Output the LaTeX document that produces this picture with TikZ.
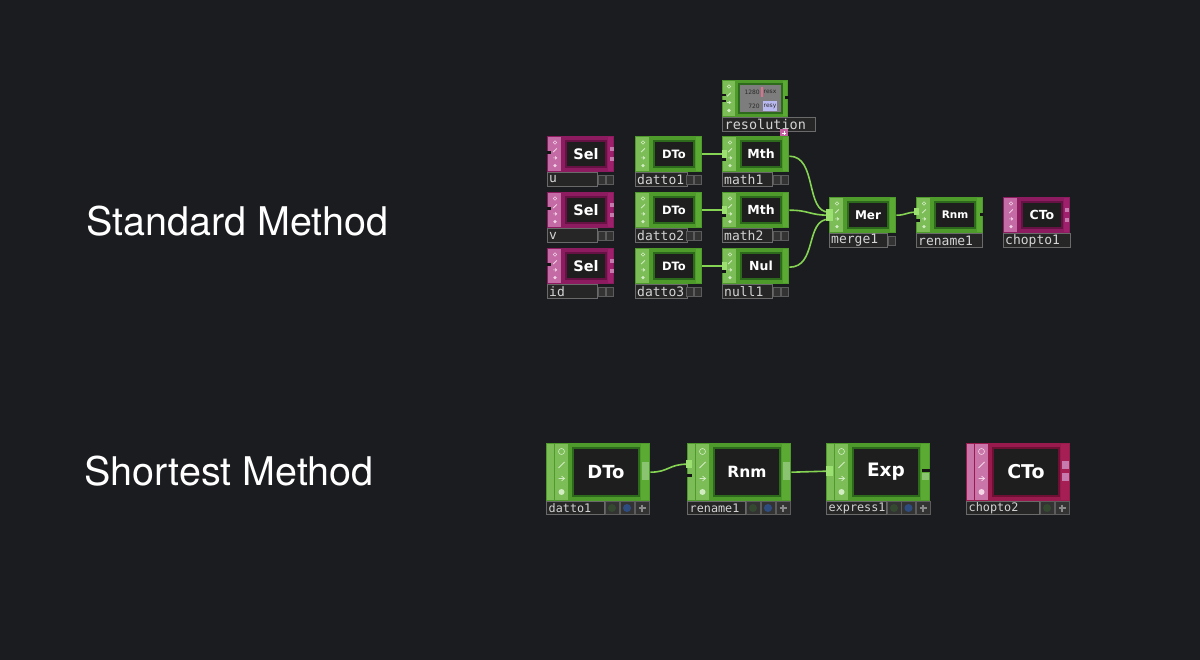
\documentclass[tikz,border=0pt]{standalone}
\usepackage{fontspec}
\setmainfont{TeX Gyre Heros}
\newfontfamily\opfont{DejaVu Sans}
\newfontfamily\labfont{DejaVu Sans Mono}
\usetikzlibrary{arrows.meta}
\definecolor{bg}{HTML}{1B1C1F}
\definecolor{innerc}{HTML}{1D1E1D}
\definecolor{notch}{HTML}{151515}
\definecolor{gouter}{HTML}{4E9B2C}
\definecolor{gstrip}{HTML}{7CBD58}
\definecolor{gframe}{HTML}{2E6A1C}
\definecolor{grs}{HTML}{5AAA33}
\definecolor{gicon}{HTML}{D2ECC2}
\definecolor{mouter}{HTML}{8C1B60}
\definecolor{mstrip}{HTML}{C46BA5}
\definecolor{mframe}{HTML}{661244}
\definecolor{mrs}{HTML}{9E1F6C}
\definecolor{micon}{HTML}{F2CFE6}
\definecolor{couter}{HTML}{991A4C}
\definecolor{cstrip}{HTML}{C975A9}
\definecolor{cframe}{HTML}{6E1034}
\definecolor{crs}{HTML}{A51F55}
\definecolor{cicon}{HTML}{F4D4E6}
\definecolor{wirec}{HTML}{86D454}
\definecolor{conn}{HTML}{9BE070}
\definecolor{pinkconn}{HTML}{C77AAE}
\definecolor{labfill}{HTML}{262627}
\definecolor{labdraw}{HTML}{6A6A6A}
\definecolor{labtext}{HTML}{D4D4D4}
\definecolor{btnfill}{HTML}{333334}
\definecolor{btndraw}{HTML}{5C5C5C}
\definecolor{resgray}{HTML}{7D7D7D}
\definecolor{restext}{HTML}{2A2A2A}
\definecolor{resblue}{HTML}{B9B9F2}
\definecolor{respink}{HTML}{E07090}
\definecolor{marker}{HTML}{C45FA0}
\definecolor{btngreen}{HTML}{34492F}
\definecolor{btnblue}{HTML}{2F4C80}
\definecolor{plusc}{HTML}{8A8A8A}

\tikzset{
 opbody/.style={draw=none, inner sep=0pt, anchor=north west},
 wire/.style={draw=wirec, line width=1.6pt},
 heading/.style={anchor=west, inner sep=0pt, text=white, font=\fontsize{39.5}{41}\selectfont},
 optext/.style={text=white, inner sep=0pt, font=\opfont\bfseries\fontsize{#1}{#1}\selectfont},
 labtxt/.style={anchor=west, inner sep=0pt, text=labtext, font=\labfont\fontsize{#1}{#1}\selectfont},
 labbox/.style={fill=labfill, draw=labdraw, line width=0.8pt},
 btn/.style={fill=btnfill, draw=btndraw, line width=0.6pt},
 restxt/.style={inner sep=0pt, text=restext, font=\opfont\fontsize{6}{6}\selectfont},
}

% icons column: cx, first cy, dy, r, colour
\newcommand\opicons[5]{%
 \draw[#5, line width=0.6pt] (#1,#2) circle (#4pt);
 \draw[#5, line width=0.8pt] (#1-#4,#2+#3+#4) -- (#1+#4,#2+#3-#4);
 \draw[#5, line width=0.7pt] (#1-#4,#2+2*#3) -- (#1+#4,#2+2*#3)
   (#1,#2+2*#3-0.8*#4) -- (#1+#4,#2+2*#3) -- (#1,#2+2*#3+0.8*#4);
 \fill[#5] (#1,#2+3*#3) circle (#4pt);
}
% small operator: name, x0, y0, text, scheme, font size
\newcommand\opS[6]{%
 \node[opbody, fill=#5outer, minimum width=67pt, minimum height=36pt] (#1) at (#2,#3) {};
 \fill[#5strip] (#2+1,#3+1) rectangle (#2+14,#3+35);
 \opicons{#2+8}{#3+6.5}{7.7}{1.8}{#5icon}
 \filldraw[fill=innerc, draw=#5frame, line width=1.6pt] (#2+18.8,#3+4.8) rectangle (#2+59.2,#3+31.2);
 \fill[#5rs] (#2+61,#3+1) rectangle (#2+66,#3+35);
 \node[optext=#6] (#1-t) at (#2+39,#3+18) {#4};
}
% big operator
\newcommand\opB[6]{%
 \node[opbody, fill=#5outer, minimum width=104pt, minimum height=58pt] (#1) at (#2,#3) {};
 \fill[#5strip] (#2+1,#3+1) rectangle (#2+22,#3+57);
 \draw[#5outer, line width=0.8pt] (#2+8,#3+1) -- (#2+8,#3+57);
 \opicons{#2+15.5}{#3+8.5}{13.5}{3}{#5icon}
 \filldraw[fill=innerc, draw=#5frame, line width=2.4pt] (#2+27,#3+5) rectangle (#2+93,#3+53);
 \fill[#5rs] (#2+95,#3+1) rectangle (#2+103,#3+57);
 \node[optext=#6] (#1-t) at (#2+60,#3+29) {#4};
}
% small label: name, x0, y0, text, box width, number of buttons (0..2)
\newcommand\labS[6]{%
 \filldraw[labbox] (#2+0.5,#3+0.5) rectangle (#2+#5,#3+14.5);
 \node[labtxt=13] (#1) at (#2+2,#3+7.5) {#4};
 \ifnum#6>0 \filldraw[btn] (#2+59,#3+3) rectangle (#2+66,#3+12);\fi
 \ifnum#6>1 \filldraw[btn] (#2+51,#3+3) rectangle (#2+58,#3+12);\fi
}
% big label buttons
\newcommand\bgreen[2]{\filldraw[btn] (#1,#2) rectangle (#1+14,#2+13); \fill[btngreen] (#1+7,#2+6.5) circle (4pt);}
\newcommand\bblue[2]{\filldraw[btn] (#1,#2) rectangle (#1+14,#2+13); \fill[btnblue] (#1+7,#2+6.5) circle (4pt);}
\newcommand\bplus[2]{\filldraw[btn] (#1,#2) rectangle (#1+14,#2+13); \draw[plusc, line width=1.4pt] (#1+3.5,#2+6.5) -- (#1+10.5,#2+6.5) (#1+7,#2+3) -- (#1+7,#2+10);}

\begin{document}
\begin{tikzpicture}[x=1pt, y=-1pt]
\useasboundingbox (0,0) rectangle (1200,660);
\fill[bg] (0,0) rectangle (1200,660);

% headings
\node[heading] (std) at (86,221) {Standard Method};
\node[heading] (short) at (84,471) {Shortest Method};

% ---------- standard method ----------
% resolution
\node[opbody, fill=gouter, minimum width=66pt, minimum height=37pt] (resolution) at (722,80) {};
\fill[gstrip] (723,81) rectangle (735,116);
\opicons{729}{86.5}{8}{1.8}{gicon}
\filldraw[fill=resgray, draw=gframe, line width=1.2pt] (739,84) rectangle (782,113);
\fill[grs] (783,81) rectangle (787,116);
\fill[notch] (785,96) rectangle (789,99);
\fill[notch] (722,94) rectangle (726,96);
\fill[notch] (722,100) rectangle (726,102);
\fill[respink] (761,87) rectangle (762.5,97);
\fill[resblue] (763,101) rectangle (777,111);
\node[restxt, anchor=east] (r1) at (760,92) {1280};
\node[restxt, anchor=west] (r2) at (763.5,92) {resx};
\node[restxt, anchor=east] (r3) at (760,106) {720};
\node[restxt, anchor=west] (r4) at (763.5,106) {resy};
\filldraw[labbox] (722.5,117.5) rectangle (815,131);
\node[labtxt=13.5] (resolution-l) at (724.5,124.5) {resolution};
\fill[marker] (780,129) rectangle (788,137);
\draw[white, line width=0.6pt] (781.8,133) -- (786.2,133) (784,130.8) -- (784,135.2);

% rows
\opS{selu}{547}{136}{Sel}{m}{14.5}
\opS{selv}{547}{192}{Sel}{m}{14.5}
\opS{selid}{547}{248}{Sel}{m}{14.5}
\opS{datto1s}{635}{136}{DTo}{g}{11.5}
\opS{datto2}{635}{192}{DTo}{g}{11.5}
\opS{datto3}{635}{248}{DTo}{g}{11.5}
\opS{math1}{722}{136}{Mth}{g}{12.5}
\opS{math2}{722}{192}{Mth}{g}{12.5}
\opS{null1}{722}{248}{Nul}{g}{12.5}
\opS{merge1}{829}{197}{Mer}{g}{12}
\opS{rename1s}{916}{197}{Rnm}{g}{10.5}
\opS{chopto1}{1003}{197}{CTo}{m}{12.5}

\labS{lu}{547}{172}{u}{50}{2}
\labS{lv}{547}{228}{v}{50}{2}
\labS{lid}{547}{284}{id}{50}{2}
\labS{ld1}{635}{172}{datto1}{52}{2}
\labS{ld2}{635}{228}{datto2}{52}{2}
\labS{ld3}{635}{284}{datto3}{52}{2}
\labS{lm1}{722}{172}{math1}{50}{2}
\labS{lm2}{722}{228}{math2}{50}{2}
\labS{ln1}{722}{284}{null1}{50}{2}
\labS{lmg}{829}{233}{merge1}{58}{1}
\labS{lrn}{916}{233}{rename1}{66}{0}
\labS{lch}{1003}{233}{chopto1}{67}{0}

% notches / side connectors (small)
\foreach \y in {136,192,248}{
  \fill[notch] (547,\y+15) rectangle (551,\y+18);
  \fill[pinkconn] (610,\y+11) rectangle (614,\y+15);
  \fill[pinkconn] (610,\y+21) rectangle (614,\y+25);
  \fill[notch] (722,\y+22) rectangle (726,\y+25);
}
\fill[notch] (980,213) rectangle (984,216);
\fill[pinkconn] (1065,208) rectangle (1069,212);
\fill[pinkconn] (1065,218) rectangle (1069,222);
\fill[notch] (916,219) rectangle (920,222);

% wires (standard)
\draw[wire] (datto1s.east) -- (math1.west);
\draw[wire] (datto2.east) -- (math2.west);
\draw[wire] (datto3.east) -- (null1.west);
\draw[wire] ([yshift=-2pt]math1.east) .. controls +(28,0) and +(-24,0) .. ([yshift=3pt]merge1.west);
\draw[wire] (math2.east) .. controls +(20,0) and +(-20,0) .. (merge1.west);
\draw[wire] ([yshift=-1pt]null1.east) .. controls +(28,0) and +(-24,0) .. ([yshift=-4pt]merge1.west);
\draw[wire] (merge1.east) .. controls +(10,0) and +(-10,0) .. ([yshift=3pt]rename1s.west);
\fill[conn] (722,150) rectangle (727,158);
\fill[conn] (722,206) rectangle (727,214);
\fill[conn] (722,262) rectangle (727,270);
\fill[conn] (826,209) rectangle (833,221);
\fill[conn] (914,208) rectangle (919,215);

% ---------- shortest method ----------
\opB{datto1b}{546}{443}{DTo}{g}{18}
\opB{rename1b}{687}{443}{Rnm}{g}{15.5}
\opB{express1}{826}{443}{Exp}{g}{18.5}
\opB{chopto2}{966}{443}{CTo}{c}{19}

% big labels
\filldraw[labbox] (546.5,501.5) rectangle (604,514.5);
\node[labtxt=11.8] (lb1) at (548.5,508) {datto1};
\bgreen{605}{501.5}\bblue{620}{501.5}\bplus{635}{501.5}
\filldraw[labbox] (687.5,501.5) rectangle (745,514.5);
\node[labtxt=11.8] (lb2) at (689.5,508) {rename1};
\bgreen{746}{501.5}\bblue{761}{501.5}\bplus{776}{501.5}
\filldraw[labbox] (826.5,501.5) rectangle (886,514.5);
\node[labtxt=11.8] (lb3) at (828.5,508) {express1};
\bgreen{887}{501.5}\bblue{901.5}{501.5}\bplus{916}{501.5}
\filldraw[labbox] (966.5,501.5) rectangle (1039,514.5);
\node[labtxt=11.8] (lb4) at (968.5,508) {chopto2};
\bgreen{1040}{501.5}\bplus{1055}{501.5}

% big side connectors
\fill[grs!70!white] (642,462) rectangle (649,480);
\fill[grs!70!white] (783,462) rectangle (790,480);
\fill[notch] (687,474) rectangle (692,477);
\fill[notch] (922,469) rectangle (930,472);
\fill[grs!70!white] (922,473) rectangle (929,480);
\fill[pinkconn] (1062,461) rectangle (1069,469);
\fill[pinkconn] (1062,473) rectangle (1069,481);

\draw[wire] (datto1b.east) .. controls +(18,0) and +(-18,0) .. ([yshift=8pt]rename1b.west);
\draw[wire] (rename1b.east) -- ([yshift=1pt]express1.west);
\fill[conn] (686,460) rectangle (692,468);
\fill[conn] (826,466) rectangle (833,476);
\end{tikzpicture}
\end{document}
